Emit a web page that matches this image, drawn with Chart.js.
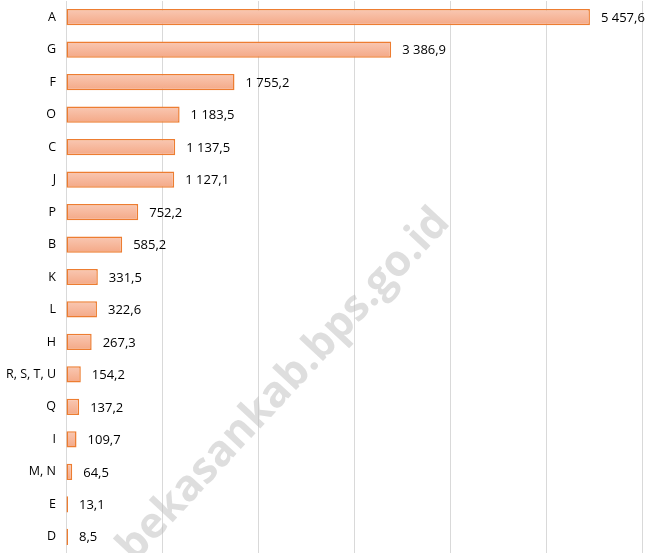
<!DOCTYPE html>
<html lang="id">
  <head>
    <meta charset="UTF-8" />
    <title>Kategori</title>
    <script src="https://cdn.jsdelivr.net/npm/chart.js"></script>
    <style>
      body {
        margin: 0;
        background: #fff;
      }
      #chart-container {
        width: 649px;
        height: 553px;
      }
    </style>
  </head>
  <body>
    <div id="chart-container">
      <canvas id="my-chart"></canvas>
    </div>

    <script>
      const categories = ["A", "G", "F", "O", "C", "J", "P", "B", "K", "L", "H", "R, S, T, U", "Q", "I", "M, N", "E", "D"];
      const values = [5457.6, 3386.9, 1755.2, 1183.5, 1137.5, 1127.1, 752.2, 585.2, 331.5, 322.6, 267.3, 154.2, 137.2, 109.7, 64.5, 13.1, 8.5];
      const xTicks = [0, 1000, 2000, 3000, 4000, 5000, 6000];
      const watermark = "bekasankab.bps.go.id";

      const fontFamily = "'Open Sans', 'Noto Sans', sans-serif";

      // 5457.6 -> "5 457,6"
      function formatValue(v) {
        const parts = v.toFixed(1).split(".");
        const intPart = parts[0].replace(/\B(?=(\d{3})+(?!\d))/g, " ");
        return intPart + "," + parts[1];
      }

      // light-to-darker peach, top to bottom of each bar
      function barGradient(context) {
        const chart = context.chart;
        const el = context.element;
        if (!chart.chartArea || !el || !el.height) return "#f6b59a";
        const g = chart.ctx.createLinearGradient(0, el.y - el.height / 2, 0, el.y + el.height / 2);
        g.addColorStop(0, "#f9c8b3");
        g.addColorStop(1, "#f4a886");
        return g;
      }

      const valueLabels = {
        id: "valueLabels",
        afterDatasetsDraw(chart) {
          const ctx = chart.ctx;
          const meta = chart.getDatasetMeta(0);
          ctx.save();
          ctx.font = "13px " + fontFamily;
          ctx.fillStyle = "#000";
          ctx.textAlign = "left";
          ctx.textBaseline = "middle";
          meta.data.forEach((bar, i) => {
            ctx.fillText(formatValue(values[i]), bar.x + 11, bar.y + 1);
          });
          ctx.restore();
        },
      };

      const watermarkPlugin = {
        id: "watermark",
        afterDraw(chart) {
          const ctx = chart.ctx;
          ctx.save();
          ctx.translate(284, 385);
          ctx.rotate((-47 * Math.PI) / 180);
          ctx.font = "bold 43px " + fontFamily;
          ctx.fillStyle = "rgba(190, 190, 190, 0.5)";
          ctx.textAlign = "center";
          ctx.textBaseline = "middle";
          ctx.fillText(watermark, 0, 0);
          ctx.restore();
        },
      };

      const ctx = document.getElementById("my-chart").getContext("2d");
      const myChart = new Chart(ctx, {
        type: "bar",
        data: {
          labels: categories,
          datasets: [
            {
              data: values,
              backgroundColor: barGradient,
              borderColor: "#ed7d31",
              borderWidth: 1.5,
              borderSkipped: false,
              minBarLength: 2,
              categoryPercentage: 1,
              barPercentage: 0.5,
            },
          ],
        },
        options: {
          indexAxis: "y",
          responsive: true,
          maintainAspectRatio: false,
          animation: false,
          layout: {
            padding: { top: 1, right: 7, bottom: 0, left: 0 },
          },
          plugins: {
            legend: { display: false },
            tooltip: { enabled: false },
          },
          scales: {
            x: {
              min: 0,
              max: 6000,
              afterBuildTicks: (scale) => {
                scale.ticks = xTicks.map((v) => ({ value: v }));
              },
              afterFit: (scale) => {
                scale.height = 0;
                scale.paddingLeft = 0;
                scale.paddingRight = 0;
              },
              ticks: { display: false },
              grid: {
                color: "#d9d9d9",
                lineWidth: 1,
                drawTicks: false,
              },
              border: { display: false },
            },
            y: {
              afterFit: (scale) => {
                scale.width = 66;
                scale.paddingTop = 0;
                scale.paddingBottom = 0;
              },
              ticks: {
                color: "#000",
                padding: 10,
                font: { family: fontFamily, size: 12.5 },
              },
              grid: { display: false, drawTicks: false },
              border: { display: false },
            },
          },
        },
        plugins: [valueLabels, watermarkPlugin],
      });

      // second pass so the gradient can use the bar geometry
      myChart.update();
    </script>
  </body>
</html>
